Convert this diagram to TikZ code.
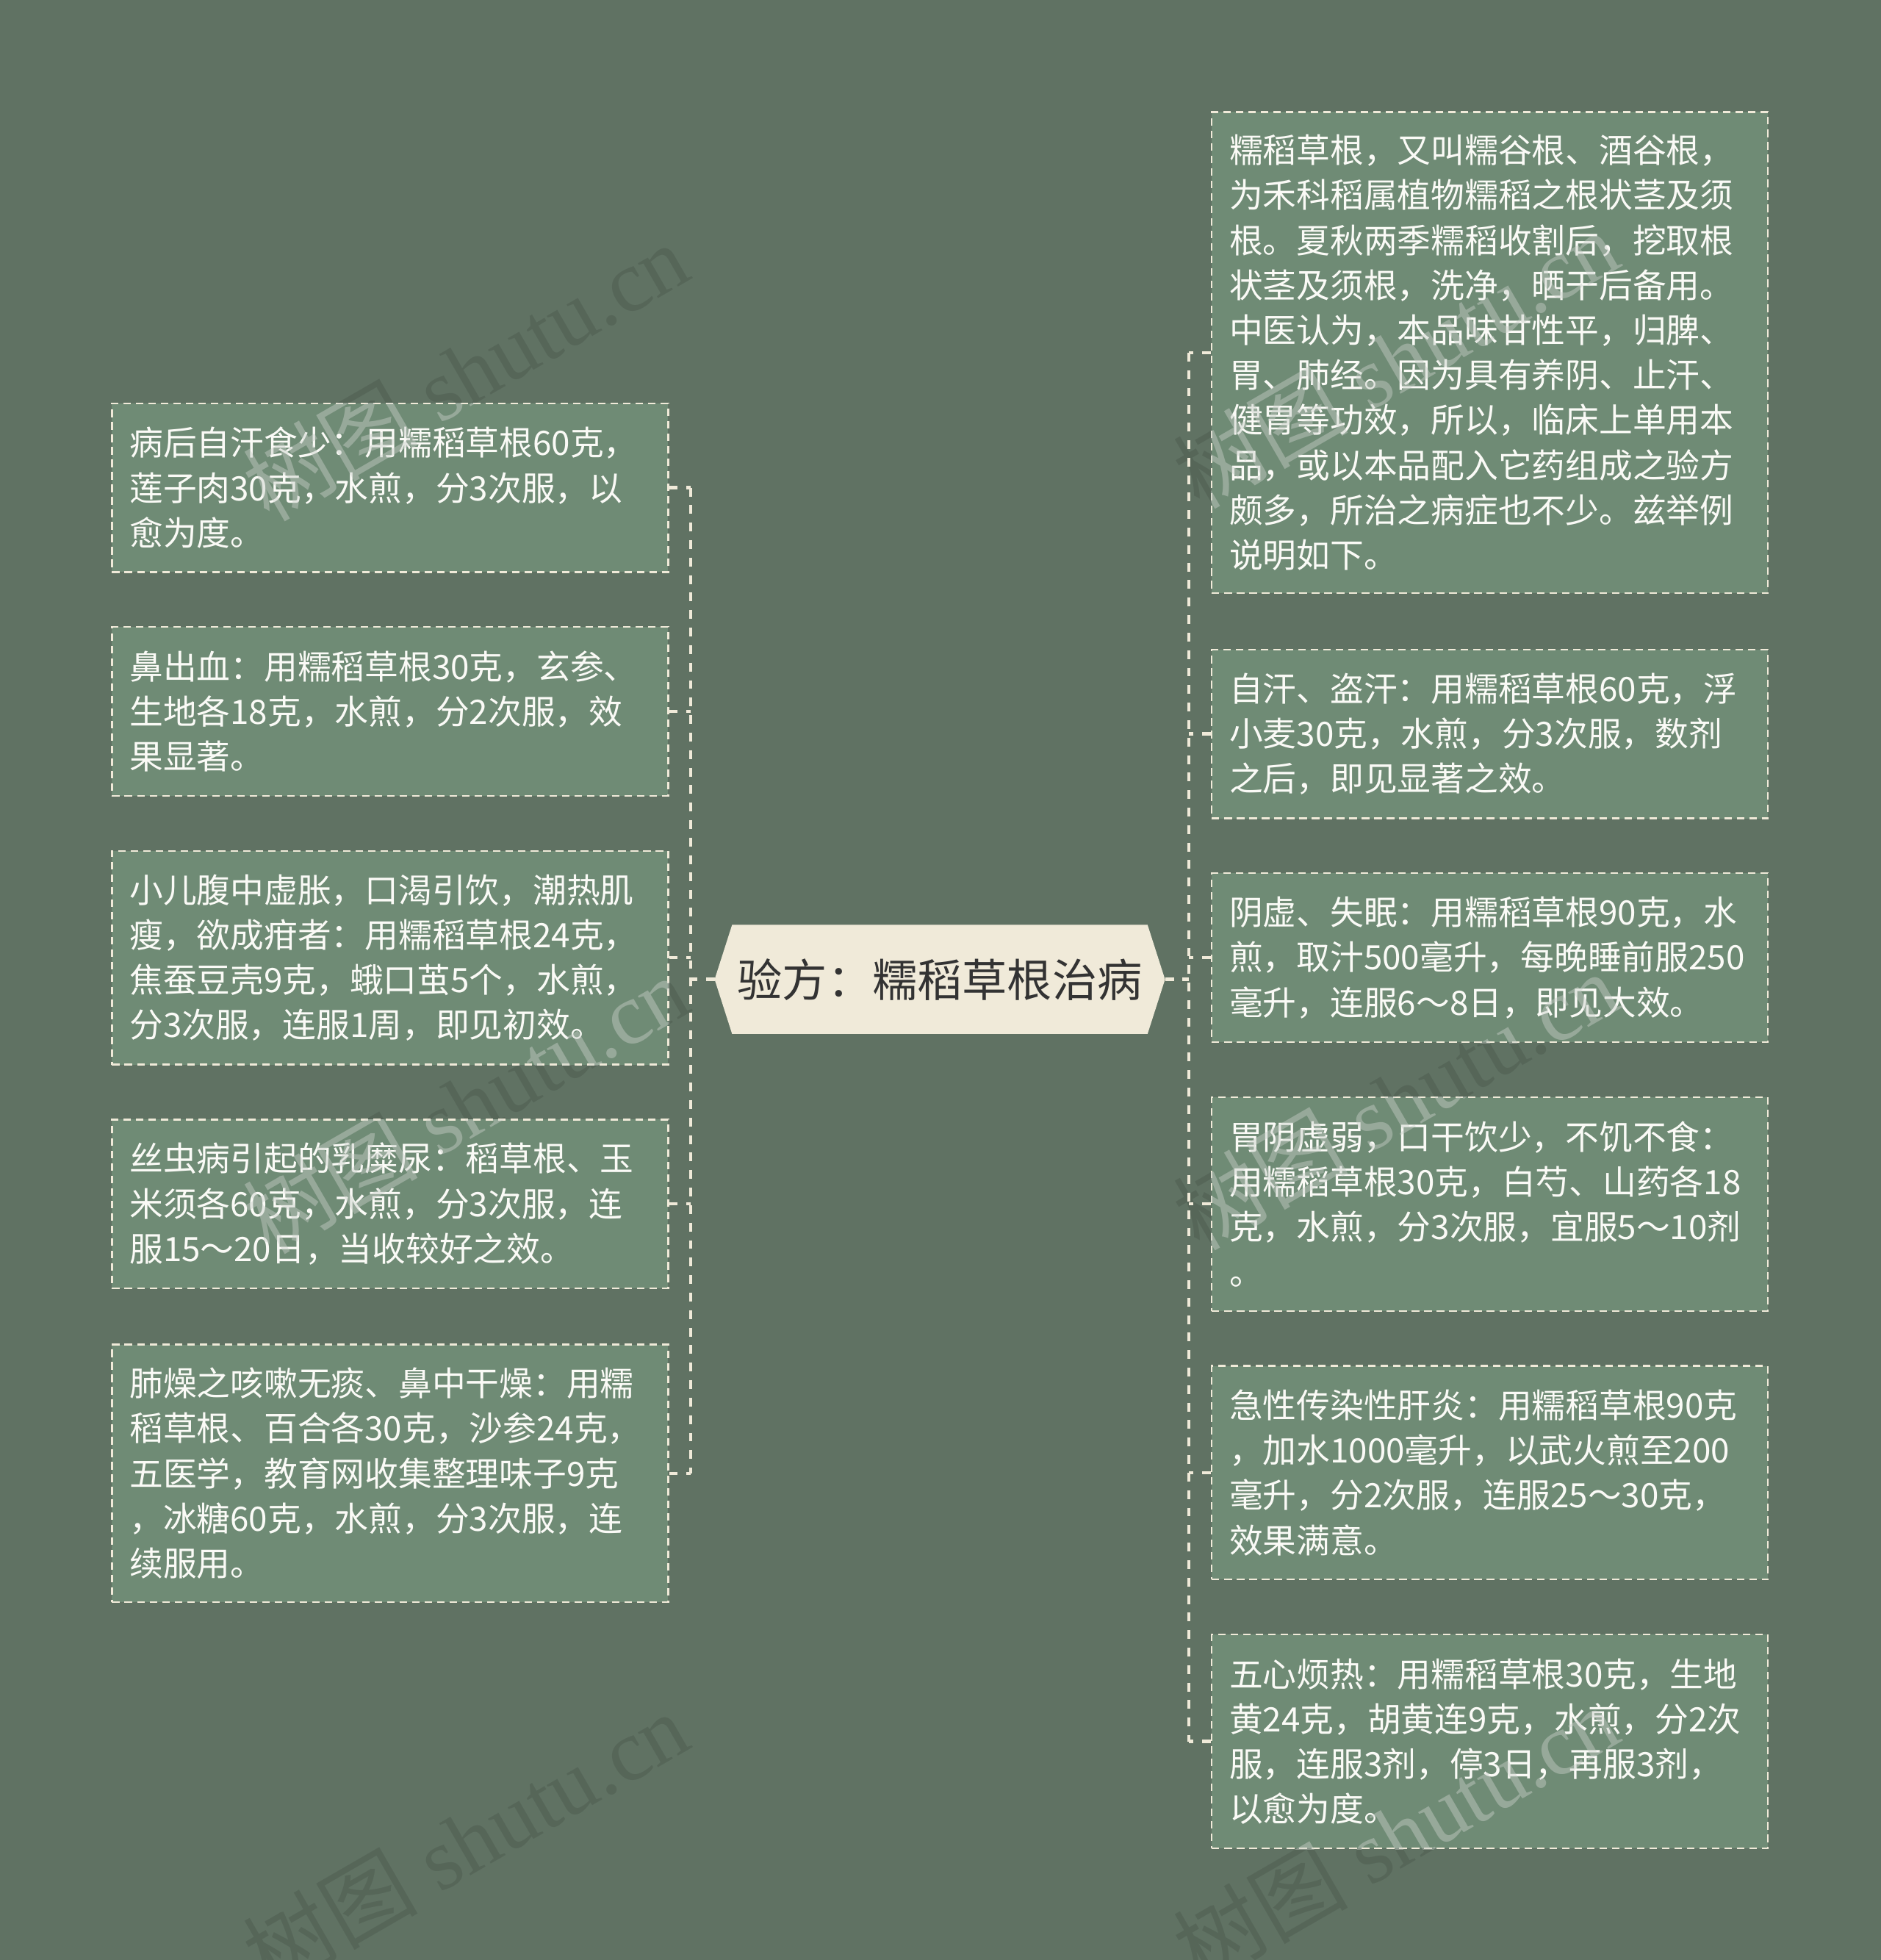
\documentclass[tikz,border=0pt]{standalone}
\usepackage{fontspec}
\newfontfamily\cjk{Noto Sans CJK SC}
\newfontfamily\wmserif{Liberation Serif}
\usetikzlibrary{backgrounds,calc}
\definecolor{bgcol}{RGB}{96,114,99}
\definecolor{boxfill}{RGB}{111,139,117}
\definecolor{linecol}{RGB}{240,234,217}
\definecolor{centerfill}{RGB}{240,234,217}
\definecolor{centertext}{RGB}{51,51,51}
\definecolor{leaftext}{RGB}{250,250,246}
\definecolor{wmlight}{RGB}{200,206,200}
\tikzset{
  leafbox/.style={rectangle, draw=linecol, line width=1.3pt, dash pattern=on 6pt off 4pt,
    fill=boxfill, text=leaftext, font=\cjk\fontsize{26.9}{36}\selectfont,
    text width=417pt, inner xsep=14pt, inner ysep=0pt, align=left, anchor=north west},
  conn/.style={draw=linecol, line width=2.6pt, dash pattern=on 7pt off 7pt},
  wmdark/.style={text=black, text opacity=0.1, font=\fontsize{70}{80}\selectfont, inner sep=0pt, anchor=base east, rotate=30},
  wmbright/.style={text=wmlight, text opacity=0.45, font=\fontsize{70}{80}\selectfont, inner sep=0pt, anchor=base east, rotate=30}
}
\newcommand{\wmtext}{{\cjk 树图}\wmserif\ shutu.cn}
\begin{document}
\begin{tikzpicture}[x=1pt,y=-1pt]
\begin{scope}[on background layer]
\fill[bgcol] (0,0) rectangle (1505,1568);
\end{scope}
\path[use as bounding box] (0,0) rectangle (1505,1568);

% dark watermarks (behind boxes)
\node[wmdark] (w1) at (556,222) {\wmtext};
\node[wmdark] (w2) at (556,808) {\wmtext};
\node[wmdark] (w3) at (556,1397) {\wmtext};
\node[wmdark] (w4) at (1300,212) {\wmtext};
\node[wmdark] (w5) at (1300,805) {\wmtext};
\node[wmdark] (w6) at (1300,1392) {\wmtext};

% center node
\node[rectangle, minimum width=360pt, minimum height=87pt, inner sep=0pt, text=centertext,
      font=\cjk\fontsize{36}{40}\selectfont] (center) at (752,783.5) {验方：糯稻草根治病};
\begin{scope}[on background layer]
\fill[centerfill] ([xshift=14pt]center.north west) -- ([xshift=-14pt]center.north east) -- (center.east)
  -- ([xshift=-14pt]center.south east) -- ([xshift=14pt]center.south west) -- (center.west) -- cycle;
\end{scope}

% left boxes
\node[leafbox, minimum height=135pt] (L1) at (89,322) {病后自汗食少：用糯稻草根60克，\\莲子肉30克，水煎，分3次服，以\\愈为度。};
\node[leafbox, minimum height=135pt] (L2) at (89,501) {鼻出血：用糯稻草根30克，玄参、\\生地各18克，水煎，分2次服，效\\果显著。};
\node[leafbox, minimum height=171pt] (L3) at (89,680) {小儿腹中虚胀，口渴引饮，潮热肌\\瘦，欲成疳者：用糯稻草根24克，\\焦蚕豆壳9克，蛾口茧5个，水煎，\\分3次服，连服1周，即见初效。};
\node[leafbox, minimum height=135pt] (L4) at (89,895) {丝虫病引起的乳糜尿：稻草根、玉\\米须各60克，水煎，分3次服，连\\服15～20日，当收较好之效。};
\node[leafbox, minimum height=206pt] (L5) at (89,1075) {肺燥之咳嗽无痰、鼻中干燥：用糯\\稻草根、百合各30克，沙参24克，\\五医学，教育网收集整理味子9克\\，冰糖60克，水煎，分3次服，连\\续服用。};

% right boxes
\node[leafbox, minimum height=385pt] (R1) at (969,89) {糯稻草根，又叫糯谷根、酒谷根，\\为禾科稻属植物糯稻之根状茎及须\\根。夏秋两季糯稻收割后，挖取根\\状茎及须根，洗净，晒干后备用。\\中医认为，本品味甘性平，归脾、\\胃、肺经。因为具有养阴、止汗、\\健胃等功效，所以，临床上单用本\\品，或以本品配入它药组成之验方\\颇多，所治之病症也不少。兹举例\\说明如下。};
\node[leafbox, minimum height=135pt] (R2) at (969,519) {自汗、盗汗：用糯稻草根60克，浮\\小麦30克，水煎，分3次服，数剂\\之后，即见显著之效。};
\node[leafbox, minimum height=135pt] (R3) at (969,698) {阴虚、失眠：用糯稻草根90克，水\\煎，取汁500毫升，每晚睡前服250\\毫升，连服6～8日，即见大效。};
\node[leafbox, minimum height=171pt] (R4) at (969,877) {胃阴虚弱，口干饮少，不饥不食：\\用糯稻草根30克，白芍、山药各18\\克，水煎，分3次服，宜服5～10剂\\。};
\node[leafbox, minimum height=171pt] (R5) at (969,1092) {急性传染性肝炎：用糯稻草根90克\\，加水1000毫升，以武火煎至200\\毫升，分2次服，连服25～30克，\\效果满意。};
\node[leafbox, minimum height=171pt] (R6) at (969,1307) {五心烦热：用糯稻草根30克，生地\\黄24克，胡黄连9克，水煎，分2次\\服，连服3剂，停3日，再服3剂，\\以愈为度。};

% connectors
\coordinate (lj) at ([xshift=-19pt]center.west);
\coordinate (rj) at ([xshift=19pt]center.east);
\draw[conn] (center.west) -- (lj);
\draw[conn] (center.east) -- (rj);
\draw[conn] (L1.east -| lj) -- (L5.east -| lj);
\draw[conn] (R1.west -| rj) -- (R6.west -| rj);
\foreach \n in {L1,L2,L3,L4,L5} {\draw[conn] (\n.east) -- (\n.east -| lj);}
\foreach \n in {R1,R2,R3,R4,R5,R6} {\draw[conn] (\n.west) -- (\n.west -| rj);}

% light watermarks over boxes
\begin{scope}
\clip (L1.north west) rectangle (L1.south east) (L2.north west) rectangle (L2.south east)
      (L3.north west) rectangle (L3.south east) (L4.north west) rectangle (L4.south east)
      (L5.north west) rectangle (L5.south east) (R1.north west) rectangle (R1.south east)
      (R2.north west) rectangle (R2.south east) (R3.north west) rectangle (R3.south east)
      (R4.north west) rectangle (R4.south east) (R5.north west) rectangle (R5.south east)
      (R6.north west) rectangle (R6.south east);
\node[wmbright] (w1b) at (556,222) {\wmtext};
\node[wmbright] (w2b) at (556,808) {\wmtext};
\node[wmbright] (w3b) at (556,1397) {\wmtext};
\node[wmbright] (w4b) at (1300,212) {\wmtext};
\node[wmbright] (w5b) at (1300,805) {\wmtext};
\node[wmbright] (w6b) at (1300,1392) {\wmtext};
\end{scope}
\end{tikzpicture}
\end{document}
